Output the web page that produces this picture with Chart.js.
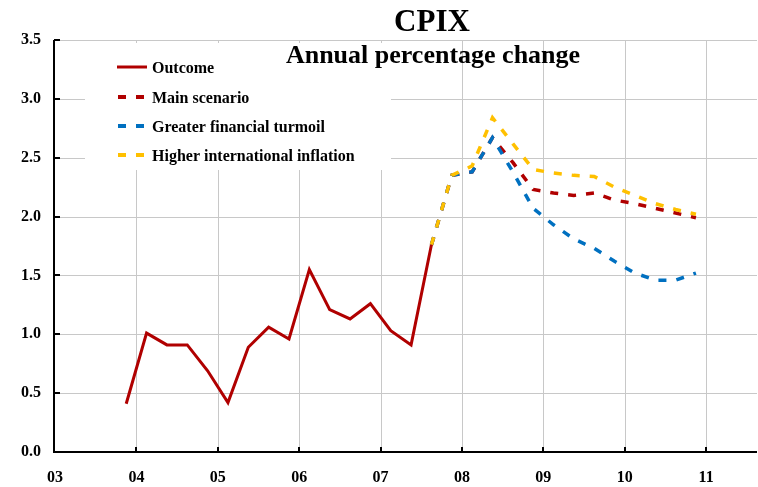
<!DOCTYPE html>
<html>
<head>
<meta charset="utf-8">
<script src="https://cdn.jsdelivr.net/npm/chart.js@4/dist/chart.umd.min.js"></script>
<style>
html,body{margin:0;padding:0;background:#fff;}
#wrap{width:758px;height:487px;}
</style>
</head>
<body>
<div id="wrap"><canvas id="c" width="758" height="487"></canvas></div>
<script>
// ---- data ----
const titleText = "CPIX";
const subtitleText = "Annual percentage change";
const yearTicks = [2003, 2004, 2005, 2006, 2007, 2008, 2009, 2010, 2011];
const yearLabels = ["03", "04", "05", "06", "07", "08", "09", "10", "11"];
const valueTicks = [0, 0.5, 1, 1.5, 2, 2.5, 3, 3.5];

const outcomeQuarters = [2003.875, 2004.125, 2004.375, 2004.625, 2004.875, 2005.125, 2005.375, 2005.625,
  2005.875, 2006.125, 2006.375, 2006.625, 2006.875, 2007.125, 2007.375, 2007.625];
const outcomeValues = [0.41, 1.01, 0.91, 0.91, 0.69, 0.42, 0.89, 1.06, 0.96, 1.55, 1.21, 1.13, 1.26, 1.03, 0.91, 1.76];

const forecastQuarters = [2007.625, 2007.875, 2008.125, 2008.375, 2008.625, 2008.875, 2009.125, 2009.375,
  2009.625, 2009.875, 2010.125, 2010.375, 2010.625, 2010.875];
const mainValues      = [1.76, 2.35, 2.38, 2.67, 2.46, 2.23, 2.20, 2.18, 2.20, 2.14, 2.11, 2.07, 2.03, 1.99];
const turmoilValues   = [1.76, 2.35, 2.38, 2.67, 2.38, 2.07, 1.93, 1.81, 1.73, 1.62, 1.52, 1.46, 1.46, 1.52];
const inflationValues = [1.76, 2.35, 2.43, 2.84, 2.62, 2.40, 2.37, 2.35, 2.34, 2.25, 2.18, 2.11, 2.06, 2.02];

const seriesNames = ["Outcome", "Main scenario", "Greater financial turmoil", "Higher international inflation"];
const seriesColors = ["#b00000", "#b00000", "#0070c0", "#ffc000"];

// ---- build ----
function pts(xs, ys) { return xs.map((x, i) => ({ x: x, y: ys[i] })); }
const FONT = "'Liberation Serif', 'Times New Roman', serif";
const DASH = [8, 10];

const decor = {
  id: 'decor',
  beforeDraw(chart) {
    const ctx = chart.ctx, a = chart.chartArea;
    const xs = chart.scales.x, ys = chart.scales.y;
    ctx.save();
    ctx.fillStyle = '#fff';
    ctx.fillRect(0, 0, chart.width, chart.height);
    // grid
    ctx.strokeStyle = '#c8c8c8';
    ctx.lineWidth = 1;
    ctx.beginPath();
    yearTicks.slice(1).forEach(v => {
      const px = Math.round(xs.getPixelForValue(v)) + 0.5;
      ctx.moveTo(px, a.top); ctx.lineTo(px, a.bottom);
    });
    valueTicks.slice(1).forEach(v => {
      const py = Math.round(ys.getPixelForValue(v)) + 0.5;
      ctx.moveTo(a.left, py); ctx.lineTo(a.right, py);
    });
    ctx.stroke();
    // legend backdrop
    ctx.fillStyle = '#fff';
    ctx.fillRect(85, 43, 306, 127);
    // axes
    ctx.strokeStyle = '#000';
    ctx.lineWidth = 2;
    ctx.beginPath();
    ctx.moveTo(a.left - 1, a.top); ctx.lineTo(a.left - 1, a.bottom);
    ctx.moveTo(a.left - 2, a.bottom); ctx.lineTo(a.right, a.bottom);
    ctx.stroke();
    ctx.beginPath();
    valueTicks.forEach(v => {
      const py = Math.round(ys.getPixelForValue(v));
      ctx.moveTo(a.left - 1, py); ctx.lineTo(a.left + 5, py);
    });
    yearTicks.slice(1).forEach(v => {
      const px = Math.round(xs.getPixelForValue(v));
      ctx.moveTo(px, a.bottom - 5); ctx.lineTo(px, a.bottom + 1);
    });
    ctx.stroke();
    // titles
    ctx.fillStyle = '#000';
    ctx.textAlign = 'center';
    ctx.textBaseline = 'alphabetic';
    ctx.font = 'bold 31px ' + FONT;
    ctx.fillText(titleText, 432, 31);
    ctx.font = 'bold 26px ' + FONT;
    ctx.fillText(subtitleText, 433, 63);
    // legend
    ctx.textAlign = 'left';
    ctx.font = 'bold 16px ' + FONT;
    const baselines = [73, 103, 132, 161];
    seriesNames.forEach((name, i) => {
      const by = baselines[i];
      ctx.fillStyle = '#000';
      ctx.fillText(name, 152, by);
      ctx.strokeStyle = seriesColors[i];
      ctx.beginPath();
      if (i === 0) {
        ctx.lineWidth = 3;
        ctx.moveTo(117, by - 6); ctx.lineTo(147, by - 6);
      } else {
        ctx.lineWidth = 4;
        ctx.moveTo(118, by - 6); ctx.lineTo(126, by - 6);
        ctx.moveTo(136, by - 6); ctx.lineTo(144, by - 6);
      }
      ctx.stroke();
    });
    ctx.restore();
  }
};

new Chart(document.getElementById('c'), {
  type: 'line',
  data: {
    datasets: [
      { label: seriesNames[0], data: pts(outcomeQuarters, outcomeValues), borderColor: seriesColors[0], borderWidth: 3, order: 0 },
      { label: seriesNames[1], data: pts(forecastQuarters, mainValues), borderColor: seriesColors[1], borderWidth: 3.5, borderDash: DASH, order: 3 },
      { label: seriesNames[2], data: pts(forecastQuarters, turmoilValues), borderColor: seriesColors[2], borderWidth: 3.5, borderDash: DASH, order: 2 },
      { label: seriesNames[3], data: pts(forecastQuarters, inflationValues), borderColor: seriesColors[3], borderWidth: 3.5, borderDash: DASH, order: 1 }
    ]
  },
  options: {
    responsive: false,
    animation: false,
    devicePixelRatio: 1,
    layout: { padding: { top: 40, right: 1, left: 0, bottom: 0 } },
    elements: { point: { radius: 0 }, line: { tension: 0, fill: false, borderCapStyle: 'butt' } },
    plugins: { legend: { display: false }, tooltip: { enabled: false }, title: { display: false } },
    scales: {
      x: {
        type: 'linear', min: 2003, max: 2011.625,
        afterFit(s) { s.height = 35; },
        afterBuildTicks(s) { s.ticks = yearTicks.map(v => ({ value: v })); },
        grid: { display: false, drawTicks: false },
        border: { display: false },
        ticks: {
          autoSkip: false, maxRotation: 0, padding: 16, color: '#000',
          font: { family: FONT, size: 16, weight: 'bold' },
          callback(v) { const i = yearTicks.indexOf(v); return i >= 0 ? yearLabels[i] : ''; }
        }
      },
      y: {
        min: 0, max: 3.5,
        afterFit(s) { s.width = 55; },
        afterBuildTicks(s) { s.ticks = valueTicks.map(v => ({ value: v })); },
        grid: { display: false, drawTicks: false },
        border: { display: false },
        ticks: {
          padding: 14, color: '#000',
          font: { family: FONT, size: 16, weight: 'bold' },
          callback(v) { return Number(v).toFixed(1); }
        }
      }
    }
  },
  plugins: [decor]
});
</script>
</body>
</html>
